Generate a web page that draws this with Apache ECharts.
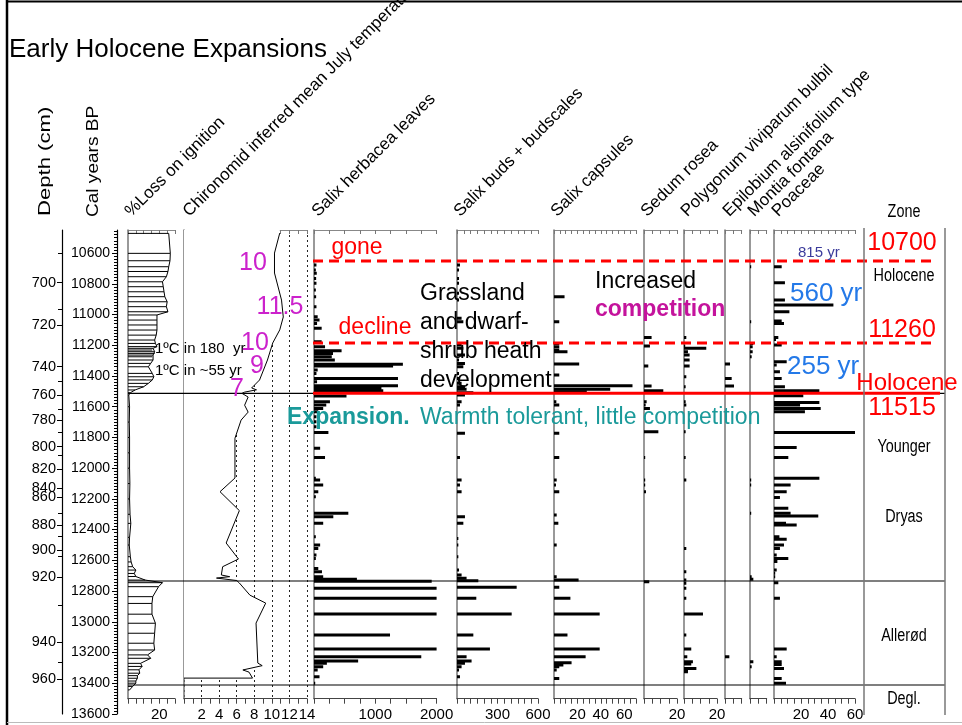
<!DOCTYPE html>
<html>
<head>
<meta charset="utf-8">
<title>Early Holocene Expansions</title>
<script src="https://cdn.jsdelivr.net/npm/echarts@6.0.0/dist/echarts.min.js"></script>
<style>
html,body{margin:0;padding:0;background:#fff;}
#chart{width:962px;height:725px;}
</style>
</head>
<body>
<div id="chart"></div>
<script>
// ================= DATA (ages in cal yr BP) =================
const calTicks = [10600,10800,11000,11200,11400,11600,11800,12000,12200,12400,12600,12800,13000,13200,13400,13600];
const depthTicks = [700,720,740,760,780,800,820,840,860,880,900,920,940,960];
const depthTickAges = [10793,11069,11340,11524,11687,11860,12006,12129,12188,12370,12533,12709,13132,13373];
const depthMinorAges = [10600,10964,11433,11615,11769,11915,12294,12446,12576,12895,13266];

// [age, % loss on ignition]
const lossOnIgnition = [
 [10472,26],[10602,27],[10650,26.8],[10689,26],[10720,25.5],[10754,24.5],[10787,22],[10819,22.5],[10852,23],
 [10884,23.5],[10917,25],[10949,24.5],[10982,25.5],[11003,18.5],[11036,18.5],[11068,18.5],[11101,18.5],
 [11134,18],[11166,17],[11188,17.5],[11209,18.5],[11220,16],[11231,15.5],[11242,17],[11253,17],[11264,16],
 [11275,15.5],[11296,16],[11318,14.5],[11340,13],[11383,15.5],[11405,16.5],[11426,15.5],[11448,13],
 [11470,10],[11491,4.5],[11509,1.5],[11524,0.5],
 [11600,1],[11700,0.8],[11800,1],[11900,1],[12000,1],[12100,1.2],[12200,1],[12300,1.3],[12359,1.8],
 [12450,1],[12500,0.8],[12576,1.5],[12610,2],[12641,3],[12663,5],[12685,4],[12705,5],[12728,11],
 [12745,22],[12771,19.5],[12836,15.8],[12880,15.3],[12950,15.3],[13009,17.5],[13074,17],[13139,16.5],
 [13183,17],[13215,12.5],[13237,14.5],[13270,8],[13290,9],[13312,7],[13334,7.5],[13350,6],[13367,6],
 [13385,5],[13399,5],[13420,3],[13443,1]
];

// [age, chironomid-inferred mean July temperature °C]
const chironomidTemp = [
 [10470,10.9],[10600,10.3],[10730,10.3],[10906,11.1],[11016,11.3],[11100,10.9],[11185,10.1],[11296,9.5],
 [11426,8.6],[11478,7.7],[11490,8.25],[11505,6.9],[11513,6.6],[11537,7.3],[11590,6.9],[11635,7.3],
 [11687,6.5],[11805,5.8],[12064,5.8],[12153,4.1],[12276,6.3],[12487,4.8],[12591,6.2],[12641,4.4],
 [12695,4.25],[12706,5.2],[12715,3.7],[12731,6.0],[12747,6.3],[12826,7.5],[12878,9.3],[13008,8.2],
 [13268,8.4],[13285,8.9],[13313,6.7],[13327,7.4],[13366,7.8]
];

// [age, count]
const salixHerbacea = [
 [10678,40],[10711,30],[10732,45],[10765,35],[10797,40],[10841,30],[10884,35],[10949,40],[11014,60],
 [11036,90],[11058,50],[11090,125],[11177,125],[11210,180],[11236,450],[11253,310],[11275,290],[11296,340],
 [11324,1450],[11335,1290],[11361,60],[11383,40],[11416,1370],[11437,50],[11463,1370],[11481,1100],
 [11496,1130],[11531,530],[11568,260],[11589,200],[11611,150],[11633,70],[11665,40],[11698,40],[11730,40],
 [11767,235],[11871,100],[11930,180],[12066,30],
 [12077,100],[12110,150],[12153,70],[12186,30],[12294,560],[12316,315],[12359,150],[12446,30],[12500,100],
 [12522,70],[12565,40],[12587,30],[12652,70],[12674,130],[12706,150],[12722,700],[12735,1920],[12782,2000],
 [12847,2000],[12949,2000],[13086,1240],[13177,2000],[13227,1750],[13255,720],[13270,210],[13292,150],
 [13313,60],[13357,90],[13400,20]
];
const salixBuds = [
 [10678,22],[10711,15],[10765,15],[10797,15],[10862,15],[10906,15],[11025,34],[11047,47],[11199,34],
 [11220,47],[11264,59],[11296,15],[11318,59],[11340,47],[11383,15],[11416,15],[11448,34],[11470,59],
 [11487,71],[11509,121],[11524,59],[11567,34],[11589,22],[11773,59],[11930,22],
 [12077,34],[12110,22],[12153,34],[12316,59],[12359,47],[12457,10],[12500,10],[12576,10],[12663,15],
 [12695,34],[12717,71],[12732,158],[12775,442],[12847,143],[12949,405],[13086,121],[13177,244],
 [13227,71],[13255,108],[13270,59],[13292,34],[13313,15],[13357,22]
];
const salixCapsules = [
 [10884,9],[11047,4.5],[11188,4.5],[11210,4.5],[11231,4.5],[11242,11.5],[11322,21.5],[11394,4.5],
 [11463,67],[11487,48],[11502,28],[11567,2],[11589,4.5],[11773,4.5],[11930,4.5],
 [12077,2.3],[12110,1.7],[12153,4.5],[12305,2.3],[12359,3.7],[12500,2.3],[12706,2.3],[12728,21],
 [12775,4.5],[12847,14],[12949,39],[13086,11.5],[13177,39],[13227,27],[13266,15],[13281,8],
 [13292,4.5],[13313,2.3],[13368,4.5]
];
const sedumRosea = [
 [11149,4.6],[11205,3.6],[11335,2.6],[11465,4.6],[11496,11.7],[11567,1.6],[11589,1],[11611,3.6],
 [11763,8.7],[11930,0.6],[12077,0.6],[12110,0.6],[12153,1.2],[12739,3.2]
];
const polygonumBulbil = [
 [11149,1.4],[11205,0.6],[11220,13.5],[11242,2.4],[11264,3.4],[11296,3.4],[11335,3.4],[11405,1.4],
 [11470,1],[11567,1],[11589,1.4],[11763,1],[11930,1],[12077,1.4],[12522,1.4],[12674,1.4],[12728,1.4],
 [12749,1.4],[12782,1.4],[12847,1.4],[12949,11.5],[13086,1.4],[13177,4.4],[13227,2],[13259,5.4],
 [13274,4.4],[13303,7.5],[13313,2.4],[13324,2.4]
];
const epilobiumAlsinifolium = [[11322,3],[11416,4],[11465,5.4],[13227,2.6]];
const montiaFontana = [
 [10689,0.6],[11047,0.6],[11188,2],[11210,1.6],[11242,1.6],[11275,1],[12077,0.6],[12110,0.6],
 [12294,0.6],[12706,1],[12723,2],[13259,2],[13292,1]
];
const poaceae = [
 [10689,5.7],[10793,8.1],[10906,8.1],[10938,44],[10982,11.4],[11042,5.7],[11058,7.4],[11149,3.2],
 [11162,1.5],[11199,5.7],[11307,9.4],[11329,2],[11372,4.4],[11416,5.7],[11470,8.1],[11496,33.6],
 [11528,21.7],[11572,33.6],[11589,19.3],[11611,34.6],[11632,22.9],[11767,60.7],[11865,16.8],
 [11930,10.6],[12066,33.6],[12110,12.3],[12153,9.4],[12190,4.4],[12261,10.6],[12294,12.3],[12311,32.8],
 [12359,8.9],[12370,16.8],[12446,4],[12463,9.4],[12500,7.4],[12522,4.4],[12565,2],[12587,10.6],
 [12608,2.5],[12663,2],[12684,0.7],[12706,0.7],[12745,3.2],[12847,4.4],[13177,9.4],[13227,2],
 [13259,5.7],[13277,5.7],[13303,7.4],[13368,5.7],[13400,8.9]
];

const zoneBoundaryAges = [11513, 12734, 13411];   // Holocene / YD, YD / Allerød, Allerød / Degl.
const dashedLineAges = [10652, 11186];             // "gone", "decline"

// ================= LAYOUT / STYLE =================
const SANS = '"Liberation Sans", Arial, Helvetica, sans-serif';
const AGE_MIN = 10450, AGE_MAX = 13500, AGE_AXIS_MAX = 13600;
const PT = 230, PH = 468.7, AH = 484;
const RED = '#ff0000', MAG = '#cc22cc', TEAL = '#1a9a9a', BLUE = '#2479e8';
const plain = (v) => String(v);

const panels = [
 {left:128, width:47,    max:30,   interval:5,   labels:[20]},
 {left:184, width:123,   max:14,   interval:2,   labels:[2,4,6,8,10,12,14], minor:true, dotted:true},
 {left:314, width:122.6, max:2000, interval:250, labels:[1000,2000]},
 {left:457, width:81,    max:600,  interval:50,  labels:[300,600]},
 {left:554, width:82,    max:70,   interval:5,   labels:[20,40,60]},
 {left:644, width:33,    max:20,   interval:5,   labels:[20]},
 {left:684, width:33,    max:20,   interval:5,   labels:[20]},
 {left:725, width:16.7,  max:10,   interval:5,   labels:[]},
 {left:750, width:16.7,  max:10,   interval:5,   labels:[]},
 {left:774, width:81,    max:60,   interval:5,   labels:[20,40,60]}
];

const calMinor = [];
for (let a = 10460; a <= 13600; a += 20) if (a % 200 !== 0) calMinor.push(a);

const grids = [{left:117, top:PT, width:11, height:AH}];
const xAxes = [{gridIndex:0, type:'value', min:0, max:1, show:false}];
const yAxes = [
 {gridIndex:0, type:'value', min:AGE_MIN, max:AGE_AXIS_MAX, inverse:true, position:'left',
  axisLine:{show:true, onZero:false, lineStyle:{color:'#000', width:1.2}},
  axisTick:{show:true, customValues:calTicks, length:5, lineStyle:{color:'#000'}},
  axisLabel:{show:true, customValues:calTicks, fontFamily:SANS, fontSize:14, color:'#000', margin:7, formatter:plain},
  splitLine:{show:false}},
 {gridIndex:0, type:'value', min:AGE_MIN, max:AGE_AXIS_MAX, inverse:true, position:'left',
  axisLine:{show:false}, axisTick:{show:true, customValues:calMinor, length:3, lineStyle:{color:'#000'}},
  axisLabel:{show:false}, splitLine:{show:false}},
 {gridIndex:0, type:'value', min:AGE_MIN, max:AGE_AXIS_MAX, inverse:true, position:'left', offset:55,
  axisLine:{show:true, onZero:false, lineStyle:{color:'#000', width:1.2}},
  axisTick:{show:true, customValues:depthTickAges, length:5, lineStyle:{color:'#000'}},
  axisLabel:{show:true, customValues:depthTickAges, fontFamily:SANS, fontSize:14.5, color:'#000', margin:6,
   formatter:(v)=>{const i = depthTickAges.indexOf(v); return i >= 0 ? String(depthTicks[i]) : '';}},
  splitLine:{show:false}},
 {gridIndex:0, type:'value', min:AGE_MIN, max:AGE_AXIS_MAX, inverse:true, position:'left', offset:55,
  axisLine:{show:false}, axisTick:{show:true, customValues:depthMinorAges, length:4, lineStyle:{color:'#000'}},
  axisLabel:{show:false}, splitLine:{show:false}}
];

panels.forEach((p, i) => {
  const g = i + 1;
  grids.push({left:p.left, top:PT, width:p.width, height:PH});
  xAxes.push({gridIndex:g, type:'value', min:0, max:p.max, interval:p.interval, position:'bottom',
    axisLine:{show:true, onZero:false, lineStyle:{color:'#444', width:1}},
    axisTick:{show:true, length:5, lineStyle:{color:'#444'}},
    minorTick:{show:!!p.minor, splitNumber:2, length:5, lineStyle:{color:'#444'}},
    axisLabel:{show:true, customValues:p.labels, fontFamily:SANS, fontSize:15, color:'#000', margin:9, formatter:plain},
    splitLine:{show:!!p.dotted, lineStyle:{type:[2,3], color:'#222', width:1}}});
  xAxes.push({gridIndex:g, type:'value', min:0, max:p.max, interval:p.interval, position:'top',
    axisLine:{show:true, onZero:false, lineStyle:{color:'#888', width:1}},
    axisTick:{show:true, inside:true, length:4, lineStyle:{color:'#777'}},
    minorTick:{show:!!p.minor, splitNumber:2, length:4, lineStyle:{color:'#777'}},
    axisLabel:{show:false}, splitLine:{show:false}});
  yAxes.push({gridIndex:g, type:'value', min:AGE_MIN, max:AGE_MAX, inverse:true,
    axisLine:{show:true, onZero:false, lineStyle:{color:'#777', width:1.5}},
    axisTick:{show:false}, axisLabel:{show:false}, splitLine:{show:false}});
});
// overlay grid (pixel x, age y)
grids.push({left:0, top:PT, width:962, height:PH});
xAxes.push({gridIndex:11, type:'value', min:0, max:962, show:false});
yAxes.push({gridIndex:11, type:'value', min:AGE_MIN, max:AGE_MAX, inverse:true, show:false});

const xBottom = (p) => 1 + 2 * (p - 1);
const yPanel = (p) => 3 + p;

function barSeries(data, p) {
  return {type:'custom', xAxisIndex:xBottom(p), yAxisIndex:yPanel(p), clip:true, z:3,
    data:data.map(d => [d[1], d[0]]),
    renderItem:(params, api) => {
      const v = api.value(0), a = api.value(1);
      const p0 = api.coord([0, a]), p1 = api.coord([v, a]);
      return {type:'rect', shape:{x:p0[0], y:p0[1] - 1.5, width:Math.max(p1[0] - p0[0], 1.2), height:3},
        style:{fill:'#000'}};
    }};
}

const series = [];
// LOI curve + sample lines
series.push({type:'line', xAxisIndex:xBottom(1), yAxisIndex:yPanel(1), showSymbol:false, silent:true,
  data:lossOnIgnition.map(d => [d[1], d[0]]), lineStyle:{color:'#000', width:1}, z:4});
series.push({type:'custom', xAxisIndex:xBottom(1), yAxisIndex:yPanel(1), z:3,
  data:lossOnIgnition.map(d => [d[1], d[0]]),
  renderItem:(params, api) => {
    const v = api.value(0), a = api.value(1);
    const p0 = api.coord([0, a]), p1 = api.coord([v, a]);
    return {type:'line', shape:{x1:p0[0], y1:p0[1], x2:p1[0], y2:p1[1]}, style:{stroke:'#000', lineWidth:1}};
  }});
// Chironomid: white fill (hides grid dots left of curve) + curve
series.push({type:'custom', xAxisIndex:xBottom(2), yAxisIndex:yPanel(2), z:2, data:[[0, AGE_MIN]],
  renderItem:(params, api) => {
    const pts = chironomidTemp.map(d => api.coord([d[1], d[0]]));
    pts.unshift(api.coord([chironomidTemp[0][1], AGE_MIN]));
    pts.unshift(api.coord([0, AGE_MIN]));
    pts.push(api.coord([0, chironomidTemp[chironomidTemp.length - 1][0]]));
    return {type:'polygon', shape:{points:pts}, style:{fill:'#fff'}};
  }});
const chiroLine = chironomidTemp.map(d => [d[1], d[0]]);
chiroLine.push([0, chironomidTemp[chironomidTemp.length - 1][0]]);
series.push({type:'line', xAxisIndex:xBottom(2), yAxisIndex:yPanel(2), showSymbol:false, silent:true,
  data:chiroLine, lineStyle:{color:'#000', width:1}, z:4});

series.push(barSeries(salixHerbacea, 3));
series.push(barSeries(salixBuds, 4));
series.push(barSeries(salixCapsules, 5));
series.push(barSeries(sedumRosea, 6));
series.push(barSeries(polygonumBulbil, 7));
series.push(barSeries(epilobiumAlsinifolium, 8));
series.push(barSeries(montiaFontana, 9));
series.push(barSeries(poaceae, 10));

// Zone boundaries / annotation lines in overlay grid
function hline(x1, x2, age, color, width, type) {
  return {type:'line', xAxisIndex:21, yAxisIndex:14, showSymbol:false, silent:true, z:8,
    data:[[x1, age], [x2, age]], lineStyle:{color, width, type:type || 'solid'}};
}
series.push(hline(128, 945, zoneBoundaryAges[0], '#000', 1.2));
series.push(hline(313, 940, zoneBoundaryAges[0], RED, 3));
series.push(hline(128, 945, zoneBoundaryAges[1], '#000', 1.2));
series.push(hline(128, 945, zoneBoundaryAges[2], '#000', 1.2));
dashedLineAges.forEach(a => series.push(hline(313, 935, a, RED, 3, [10, 6])));

// ================= TEXT / FRAME =================
function txt(text, x, y, font, fill, align, vAlign, rot, extra, el) {
  return Object.assign({type:'text', x, y, rotation:rot || 0, z:100,
    style:Object.assign({text, font, fill:fill || '#000', align:align || 'left', verticalAlign:vAlign || 'middle'}, extra || {})}, el || {});
}
const HF = '17px ' + SANS;
const R45 = Math.PI / 4;
const ZF = '18px ' + SANS;
const narrow = {scaleX:0.8};
const graphics = [
  {type:'line', shape:{x1:7, y1:0, x2:7, y2:725}, style:{stroke:'#000', lineWidth:2.5}, z:100},
  {type:'line', shape:{x1:7, y1:1.5, x2:962, y2:1.5}, style:{stroke:'#000', lineWidth:2}, z:100},
  {type:'line', shape:{x1:7, y1:722.5, x2:962, y2:722.5}, style:{stroke:'#bbb', lineWidth:1}, z:100},
  {type:'line', shape:{x1:864, y1:228, x2:864, y2:715}, style:{stroke:'#777', lineWidth:1.5}, z:100},
  {type:'line', shape:{x1:945, y1:228, x2:945, y2:715}, style:{stroke:'#777', lineWidth:1.5}, z:100},
  txt('Early Holocene Expansions', 9, 50, '26px ' + SANS),
  txt('Depth (cm)', 54, 216, '17px ' + SANS, '#000', 'left', 'bottom', Math.PI / 2, null, {scaleX:1.3}),
  txt('Cal years BP', 102, 217, '17px ' + SANS, '#000', 'left', 'bottom', Math.PI / 2, null, {scaleX:1.12}),
  txt('%Loss on ignition', 134, 220, HF, '#000', 'left', 'bottom', R45),
  txt('Chironomid inferred mean July temperature', 192, 220, HF, '#000', 'left', 'bottom', R45),
  txt('Salix herbacea leaves', 321, 220, HF, '#000', 'left', 'bottom', R45),
  txt('Salix buds + budscales', 463, 220, HF, '#000', 'left', 'bottom', R45),
  txt('Salix capsules', 560, 220, HF, '#000', 'left', 'bottom', R45),
  txt('Sedum rosea', 650, 220, HF, '#000', 'left', 'bottom', R45),
  txt('Polygonum viviparum bulbil', 690, 220, HF, '#000', 'left', 'bottom', R45),
  txt('Epilobium alsinifolium type', 732, 220, HF, '#000', 'left', 'bottom', R45),
  txt('Montia fontana', 757, 220, HF, '#000', 'left', 'bottom', R45),
  txt('Poaceae', 781, 220, HF, '#000', 'left', 'bottom', R45),
  txt('Zone', 904, 212, ZF, '#000', 'center', 'middle', 0, null, narrow),
  txt('Holocene', 904, 276, ZF, '#000', 'center', 'middle', 0, null, narrow),
  txt('Younger', 904, 447, ZF, '#000', 'center', 'middle', 0, null, narrow),
  txt('Dryas', 904, 517, ZF, '#000', 'center', 'middle', 0, null, narrow),
  txt('Allerød', 904, 636, ZF, '#000', 'center', 'middle', 0, null, narrow),
  txt('Degl.', 904, 699, ZF, '#000', 'center', 'middle', 0, null, narrow),
  txt('gone', 357, 248, '23px ' + SANS, RED, 'center'),
  txt('decline', 375, 328, '23px ' + SANS, RED, 'center'),
  txt('Grassland\nand dwarf-\nshrub heath\ndevelopment', 420, 279, '23px ' + SANS, '#000', 'left', 'top', 0, {lineHeight:29}),
  txt('Increased', 595, 282, '23px ' + SANS, '#000'),
  txt('competition', 595, 310, 'bold 23px ' + SANS, '#c4139c'),
  txt('10', 253, 263, '25px ' + SANS, MAG, 'center'),
  txt('11.5', 280, 307, '25px ' + SANS, MAG, 'center'),
  txt('10', 255, 343, '25px ' + SANS, MAG, 'center'),
  txt('9', 257, 366, '25px ' + SANS, MAG, 'center'),
  txt('7', 237, 389, '25px ' + SANS, MAG, 'center'),
  txt('1ºC in 180  yr', 155, 349, '15px ' + SANS),
  txt('1ºC in ~55 yr', 155, 371, '15px ' + SANS),
  txt('Expansion.', 287, 418, 'bold 23px ' + SANS, TEAL),
  txt('Warmth tolerant, little competition', 420, 418, '23px ' + SANS, TEAL),
  txt('815 yr', 798, 253, '15px ' + SANS, '#3b3b9b'),
  txt('560 yr', 790, 294, '26px ' + SANS, BLUE),
  txt('255 yr', 787, 367, '26px ' + SANS, BLUE),
  txt('10700', 902, 243, '25px ' + SANS, RED, 'center'),
  txt('11260', 902, 330, '25px ' + SANS, RED, 'center'),
  txt('Holocene', 907, 383, '24px ' + SANS, RED, 'center'),
  txt('11515', 902, 408, '25px ' + SANS, RED, 'center')
];

const chart = echarts.init(document.getElementById('chart'), null, {renderer:'canvas'});
chart.setOption({
  animation:false,
  backgroundColor:'#fff',
  grid:grids,
  xAxis:xAxes,
  yAxis:yAxes,
  series:series,
  graphic:graphics
});
</script>
</body>
</html>
